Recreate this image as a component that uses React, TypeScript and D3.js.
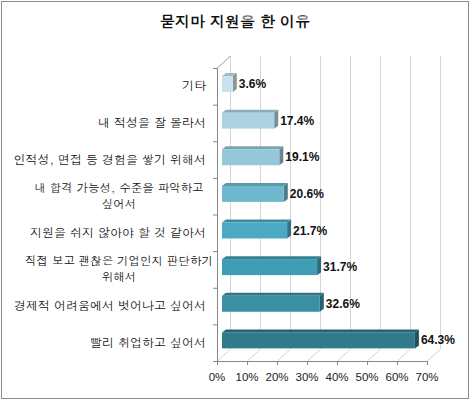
import * as d3 from "d3";

// categories from top to bottom, as in the picture
const categories = [
  "기타",
  "내 적성을 잘 몰라서",
  "인적성, 면접 등 경험을 쌓기 위해서",
  "내 합격 가능성, 수준을 파악하고|싶어서",
  "지원을 쉬지 않아야 할 것 같아서",
  "직접 보고 괜찮은 기업인지 판단하기|위해서",
  "경제적 어려움에서 벗어나고 싶어서",
  "빨리 취업하고 싶어서",
];
const values = [3.6, 17.4, 19.1, 20.6, 21.7, 31.7, 32.6, 64.3];
const frontColors = ["#c8e2eb", "#acd3e2", "#96c7d9", "#6fb7cf", "#4ba9c4", "#409db3", "#3a8fa3", "#307a8b"];
const ticks = [0, 10, 20, 30, 40, 50, 60, 70];

const W = 471;
const H = 402;
const left = 217;
const right = 427;
const top = 68;
const bottom = 361;
const depthX = 13;
const depthY = -12;

export default function App() {
  const x = d3.scaleLinear().domain([0, 70]).range([left, right]);
  const y = d3.scaleBand().domain(categories).range([top, bottom]).padding(0);
  const bw = y.bandwidth();
  const barH = 16;
  const barDx = 4;
  const barDy = -3;
  const korean = "Dotum, 'Noto Sans CJK KR', sans-serif";

  return (
    <svg
      width={W}
      height={H}
      style={{ position: "fixed", left: 0, top: 0, background: "#fff" }}
    >
      <rect x={1.5} y={1.5} width={467} height={397} fill="#fff" stroke="#8c8c8c" />
      <text
        x={235}
        y={27}
        textAnchor="middle"
        fontFamily={korean}
        fontWeight="bold"
        fontSize={15}
        fill="#111"
      >
        묻지마 지원을 한 이유
      </text>

      {/* back wall gridlines and floor diagonals */}
      {ticks.map((t) => (
        <g key={t} stroke="#d4d4d4" strokeWidth={1}>
          <line x1={x(t) + depthX + 0.5} x2={x(t) + depthX + 0.5} y1={top + depthY} y2={bottom + depthY} />
          <line x1={x(t) + 0.5} y1={bottom} x2={x(t) + depthX + 0.5} y2={bottom + depthY} />
        </g>
      ))}
      <line x1={left + 0.5} y1={top} x2={left + depthX + 0.5} y2={top + depthY} stroke="#9a9a9a" />

      {/* axes */}
      <line x1={left + 0.5} x2={left + 0.5} y1={top} y2={bottom} stroke="#868686" />
      <line x1={left} x2={right} y1={bottom + 0.5} y2={bottom + 0.5} stroke="#868686" />
      {d3.range(categories.length + 1).map((i) => (
        <line key={i} x1={left - 4} x2={left} y1={top + i * bw + 0.5} y2={top + i * bw + 0.5} stroke="#868686" />
      ))}
      {ticks.map((t) => (
        <g key={t}>
          <line x1={x(t) + 0.5} x2={x(t) + 0.5} y1={bottom} y2={bottom + 4} stroke="#868686" />
          <text
            x={x(t)}
            y={381}
            textAnchor="middle"
            fontFamily="'Liberation Sans', Arial, sans-serif"
            fontSize={11.5}
            fill="#222"
          >
            {t}%
          </text>
        </g>
      ))}

      {/* bars */}
      {categories.map((c, i) => {
        const v = values[i];
        const x0 = x(0) + 5;
        const x1 = x0 + (x(v) - x(0));
        const y0 = (y(c) ?? 0) + 8;
        const y1 = y0 + barH;
        const base = d3.color(frontColors[i])!;
        const topCol = base.darker(0.55).formatHex();
        const sideCol = base.darker(1.1).formatHex();
        return (
          <g key={c}>
            <polygon
              points={`${x0},${y0} ${x0 + barDx},${y0 + barDy} ${x1 + barDx},${y0 + barDy} ${x1},${y0}`}
              fill={topCol}
            />
            <polygon
              points={`${x1},${y0} ${x1 + barDx},${y0 + barDy} ${x1 + barDx},${y1 + barDy} ${x1},${y1}`}
              fill={sideCol}
            />
            <rect x={x0} y={y0} width={x1 - x0} height={barH} fill={frontColors[i]} />
            <text
              x={x1 + 6}
              y={y0 + 12}
              fontFamily="'Liberation Sans', Arial, sans-serif"
              fontWeight="bold"
              fontSize={12}
              fill="#111"
            >
              {v.toFixed(1)}%
            </text>
          </g>
        );
      })}

      {/* category labels */}
      {categories.map((c) => {
        const lines = c.split("|");
        const cy = (y(c) ?? 0) + bw / 2;
        if (lines.length === 1) {
          return (
            <text key={c} x={206} y={cy + 4} textAnchor="end" fontFamily={korean} fontSize={12} fill="#111">
              {c}
            </text>
          );
        }
        // two-line labels: first line right-aligned width, second centred under it
        const lh = 16;
        const start = cy - lh / 2 + 4;
        return (
          <g key={c}>
            {lines.map((l, j) => (
              <text
                key={j}
                x={119}
                y={start + j * lh}
                textAnchor="middle"
                fontFamily={korean}
                fontSize={11.5}
                fill="#111"
              >
                {l}
              </text>
            ))}
          </g>
        );
      })}
    </svg>
  );
}
